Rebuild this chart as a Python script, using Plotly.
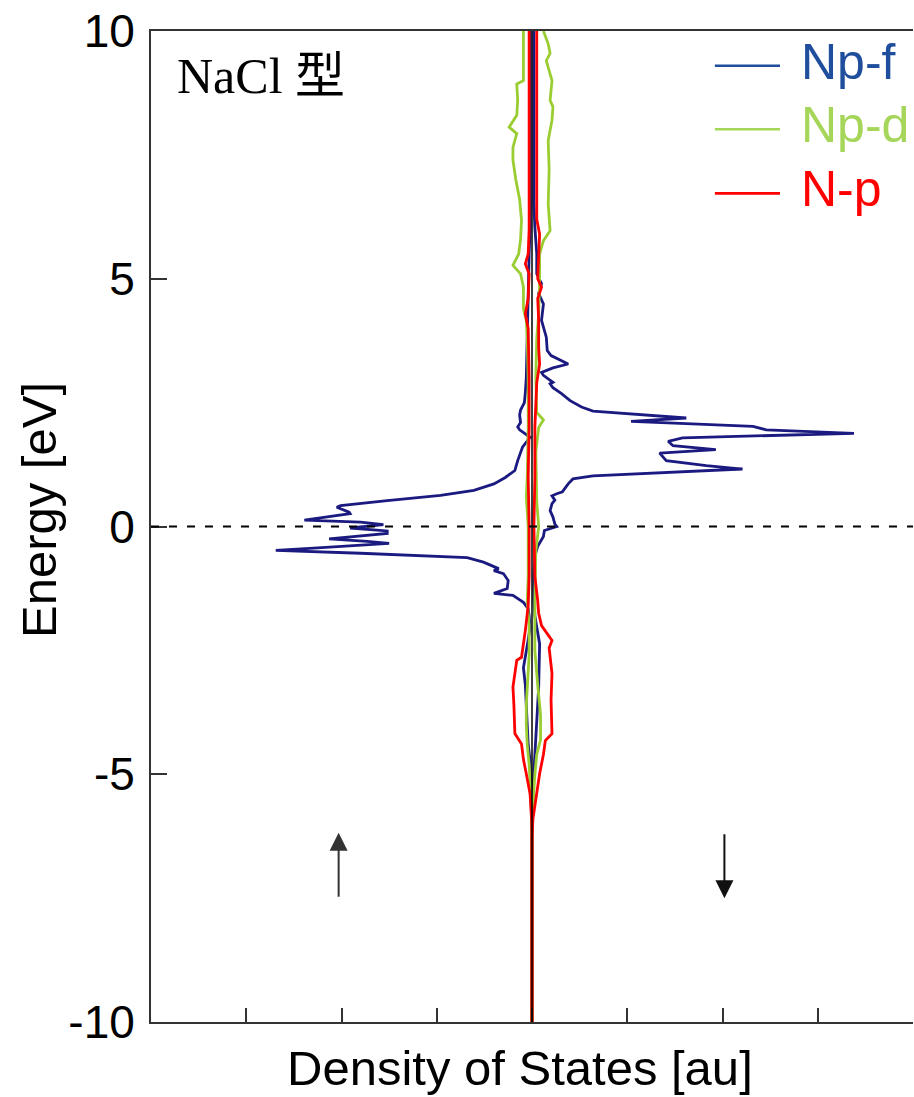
import plotly.graph_objects as go

# ---------------- data ----------------
# Energies in eV, DOS magnitudes in arbitrary units (up spin drawn to the left)
E_f_up = [10, 6, 5.5, 4.5, 3.5, 3.0, 2.7, 2.5, 2.35, 2.25, 2.1, 2.01, 1.95, 1.85, 1.8, 1.6, 1.45,
          1.33, 1.2, 1.13, 0.99, 0.86, 0.73, 0.63, 0.52, 0.42, 0.39, 0.29, 0.26, 0.13, 0.09, 0.04,
          -0.03, -0.09, -0.14, -0.2, -0.25, -0.30, -0.34, -0.43, -0.48, -0.54, -0.63, -0.72, -0.85,
          -0.89, -0.95, -1.09, -1.25, -1.35, -1.39, -1.53, -1.66, -1.8, -2.05, -2.4, -2.64, -2.85,
          -3.2, -3.51, -4.0, -4.4, -4.72, -5.5, -6.2, -10]
dos_f_up = [0.02, 0.02, 0.03, 0.04, 0.05, 0.06, 0.07, 0.08, 0.12, 0.13, 0.12, 0.15, 0.13, 0.05, 0.02,
            0.10, 0.13, 0.15, 0.17, 0.18, 0.28, 0.40, 0.61, 0.96, 1.52, 2.01, 2.05, 1.92, 1.91, 2.39,
            1.80, 1.56, 1.91, 1.52, 1.52, 1.84, 2.13, 1.73, 1.50, 2.25, 2.69, 1.80, 0.68, 0.51, 0.35,
            0.40, 0.30, 0.25, 0.26, 0.40, 0.20, 0.09, 0.04, 0.03, 0.02, 0.05, 0.07, 0.09, 0.07, 0.06,
            0.05, 0.04, 0.02, 0.01, 0.0, 0.0]

E_f_dn = [10, 6.5, 6.04, 5.5, 5.1, 4.9, 4.7, 4.49, 4.16, 3.82, 3.55, 3.45, 3.28, 3.2, 3.11, 3.05,
          2.98, 2.91, 2.88, 2.8, 2.68, 2.54, 2.41, 2.33, 2.19, 2.12, 2.02, 1.95, 1.88, 1.79, 1.72,
          1.63, 1.55, 1.48, 1.33, 1.23, 1.16, 1.02, 0.96, 0.86, 0.73, 0.70, 0.66, 0.62, 0.53, 0.46,
          0.32, 0.19, 0.05, 0.0, -0.08, -0.2, -0.4, -0.6, -1.0, -1.5, -1.8, -2.05, -2.37, -3.24,
          -3.9, -4.6, -5.3, -6.2, -10]
dos_f_dn = [0.02, 0.02, 0.03, 0.05, 0.05, 0.10, 0.07, 0.12, 0.10, 0.15, 0.16, 0.20, 0.38, 0.22,
            0.10, 0.12, 0.17, 0.22, 0.19, 0.22, 0.31, 0.40, 0.52, 0.64, 1.62, 1.04, 2.32, 2.46,
            3.38, 1.58, 1.43, 1.48, 1.93, 1.34, 1.41, 1.83, 2.21, 0.64, 0.43, 0.38, 0.33, 0.32,
            0.26, 0.21, 0.24, 0.21, 0.19, 0.22, 0.24, 0.26, 0.13, 0.12, 0.06, 0.03, 0.02, 0.02,
            0.03, 0.05, 0.08, 0.07, 0.05, 0.03, 0.01, 0.0, 0.0]

E_d_up = [10, 9.4, 9.0, 8.93, 8.6, 8.3, 8.06, 7.93, 7.8, 7.65, 7.4, 7.0, 6.6, 6.18, 5.8, 5.5, 5.27,
          5.1, 4.83, 4.4, 4.16, 3.8, 3.0, 2.0, 1.0, 0.6, 0.0, -1.0, -1.5, -2.0, -2.6, -3.3, -3.6,
          -4.0, -4.4, -4.8, -5.5, -6.2, -10]
dos_d_up = [0.09, 0.09, 0.09, 0.16, 0.15, 0.16, 0.24, 0.16, 0.18, 0.20, 0.20, 0.17, 0.13, 0.11,
            0.12, 0.14, 0.20, 0.12, 0.09, 0.09, 0.06, 0.05, 0.04, 0.04, 0.05, 0.06, 0.04, 0.04,
            0.05, 0.03, 0.03, 0.05, 0.06, 0.06, 0.05, 0.03, 0.01, 0.0, 0.0]

E_d_dn = [10, 9.74, 9.55, 9.4, 9.2, 9.0, 8.6, 8.47, 8.2, 7.79, 7.2, 6.51, 5.97, 5.77, 5.5, 5.0,
          4.29, 3.8, 3.0, 2.3, 2.15, 2.0, 1.5, 0.5, 0.0, -0.5, -1.5, -2.5, -3.2, -3.8, -4.3, -4.6,
          -5.0, -5.6, -6.2, -10]
dos_d_dn = [0.12, 0.17, 0.19, 0.15, 0.18, 0.21, 0.19, 0.22, 0.21, 0.17, 0.18, 0.17, 0.19, 0.12,
            0.08, 0.08, 0.07, 0.05, 0.04, 0.05, 0.12, 0.07, 0.04, 0.05, 0.07, 0.04, 0.03, 0.03,
            0.06, 0.09, 0.09, 0.05, 0.03, 0.01, 0.0, 0.0]

E_p_up = [10, 6, 5.5, 5.3, 5.1, 4.6, 4.29, 4.0, 3.0, 2.0, 1.0, 0.0, -1.0, -1.6, -2.1, -2.4, -2.64,
          -2.7, -3.0, -3.24, -3.6, -4.0, -4.18, -4.39, -4.7, -4.99, -5.4, -5.9, -6.3, -10]
dos_p_up = [0.03, 0.03, 0.04, 0.07, 0.03, 0.04, 0.07, 0.04, 0.03, 0.03, 0.04, 0.03, 0.03, 0.04,
            0.07, 0.09, 0.11, 0.16, 0.18, 0.20, 0.19, 0.18, 0.18, 0.11, 0.09, 0.06, 0.02, 0.005,
            0.0, 0.0]

E_p_dn = [10, 6.2, 5.9, 5.5, 5.0, 4.83, 4.6, 4.16, 3.6, 3.28, 2.9, 2.0, 1.0, 0.0, -1.0, -1.5,
          -1.75, -2.0, -2.3, -2.45, -2.97, -3.5, -4.18, -4.32, -4.6, -4.99, -5.4, -5.9, -6.3, -10]
dos_p_dn = [0.05, 0.05, 0.08, 0.07, 0.06, 0.10, 0.06, 0.07, 0.07, 0.08, 0.05, 0.03, 0.03, 0.02,
            0.03, 0.06, 0.07, 0.10, 0.21, 0.18, 0.21, 0.20, 0.21, 0.14, 0.12, 0.08, 0.05, 0.01,
            0.0, 0.0]

series_names = ["Np-f", "Np-d", "N-p"]
curve_colors = ["#1b1a80", "#9acd32", "#ff0000"]
legend_colors = ["#1f4e9c", "#a5d65a", "#ff0000"]

y_ticks = [-10, -5, 0, 5, 10]
y_tick_text = ["-10", "-5", "0", "5", "10"]
x_ticks = [-3, -2, -1, 0, 1, 2, 3]

# ---------------- figure ----------------
fig = go.Figure()
data = [
    (E_f_up, dos_f_up, E_f_dn, dos_f_dn),
    (E_d_up, dos_d_up, E_d_dn, dos_d_dn),
    (E_p_up, dos_p_up, E_p_dn, dos_p_dn),
]
for (eu, du, ed, dd), name, col in zip(data, series_names, curve_colors):
    fig.add_trace(go.Scatter(x=[-v for v in du], y=eu, mode="lines", name=name + " up",
                             line=dict(color=col, width=2.8), showlegend=False))
    fig.add_trace(go.Scatter(x=dd, y=ed, mode="lines", name=name + " down",
                             line=dict(color=col, width=2.8), showlegend=False))

# zero lines
fig.add_shape(type="line", x0=0, x1=0, y0=-10, y1=10, xref="x", yref="y",
              line=dict(color="black", width=1.5), layer="above")
fig.add_shape(type="line", x0=-4, x1=4, y0=0, y1=0, xref="x", yref="y",
              line=dict(color="black", width=1.8, dash="8px,10px"), layer="above")

# legend (manual, coloured text)
leg_y = [0.965, 0.9008, 0.8362]
for name, col, yy in zip(series_names, legend_colors, leg_y):
    fig.add_shape(type="line", xref="paper", yref="paper", x0=0.740, x1=0.8255, y0=yy, y1=yy,
                  line=dict(color=col, width=2.6))
    fig.add_annotation(xref="paper", yref="paper", x=0.850, y=yy + 0.004, text=name,
                       showarrow=False, xanchor="left", yanchor="middle",
                       font=dict(family="Liberation Sans, Arial", size=50, color=col))

# structure label
fig.add_annotation(xref="paper", yref="paper", x=0.032, y=0.9546, text="NaCl 型",
                   showarrow=False, xanchor="left", yanchor="middle",
                   font=dict(family="Liberation Serif, Noto Sans CJK JP", size=50, color="black"))

# axis titles
fig.add_annotation(xref="paper", yref="paper", x=0.4843, y=-0.0462, text="Density of States [au]",
                   showarrow=False, xanchor="center", yanchor="middle",
                   font=dict(family="Liberation Sans, Arial", size=49, color="black"))
fig.add_annotation(xref="paper", yref="paper", x=-0.1470, y=0.5166, text="Energy [eV]",
                   textangle=-90, showarrow=False, xanchor="center", yanchor="middle",
                   font=dict(family="Liberation Sans, Arial", size=49, color="black"))

# spin arrows
fig.add_annotation(x=-2.03, y=-6.18, ax=-2.03, ay=-7.5, xref="x", yref="y", axref="x", ayref="y",
                   text="", showarrow=True, arrowhead=2, arrowsize=1.8, arrowwidth=2,
                   arrowcolor="#333333")
fig.add_annotation(x=2.02, y=-7.5, ax=2.02, ay=-6.18, xref="x", yref="y", axref="x", ayref="y",
                   text="", showarrow=True, arrowhead=2, arrowsize=1.8, arrowwidth=2,
                   arrowcolor="#111111")

fig.update_layout(
    width=914, height=1097,
    margin=dict(l=151, r=1, t=31, b=75),
    paper_bgcolor="white", plot_bgcolor="white",
    font=dict(family="Liberation Sans, Arial", color="black"),
    showlegend=False,
    xaxis=dict(range=[-4, 4], showline=True, mirror=True, linecolor="#333333", linewidth=2,
               ticks="inside", ticklen=14, tickwidth=1.5, tickcolor="#333333",
               tickvals=x_ticks, showticklabels=False, showgrid=False, zeroline=False),
    yaxis=dict(range=[-10, 10], showline=True, mirror=False, linecolor="#333333", linewidth=2,
               ticks="inside", ticklen=16, tickwidth=1.5, tickcolor="#333333",
               tickvals=y_ticks, ticktext=y_tick_text, tickfont=dict(size=46),
               ticklabelstandoff=5, showgrid=False, zeroline=False),
)

fig.write_html("out.html")
